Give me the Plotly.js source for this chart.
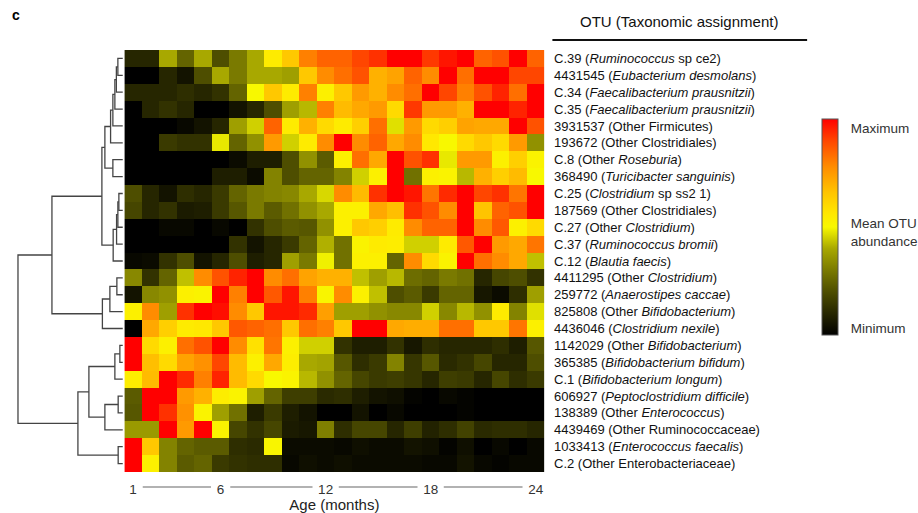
<!DOCTYPE html>
<html>
<head>
<meta charset="utf-8">
<script src="https://cdn.plot.ly/plotly-3.0.1.min.js"></script>
<style>html,body{margin:0;padding:0;background:#fff;}#chart{width:918px;height:513px;}</style>
</head>
<body>
<div id="chart"></div>
<script>
// ---------------- data ----------------
const months = [1,2,3,4,5,6,7,8,9,10,11,12,13,14,15,16,17,18,19,20,21,22,23,24];
const monthTickVals = [1,6,12,18,24];
const monthTickText = ['1','6','12','18','24'];

const otuIds = ['C.39','4431545','C.34','C.35','3931537','193672','C.8','368490','C.25','187569','C.27','C.37','C.12',
  '4411295','259772','825808','4436046','1142029','365385','C.1','606927','138389','4439469','1033413','C.2'];
const taxa = [
  '<i>Ruminococcus</i> sp ce2',
  '<i>Eubacterium desmolans</i>',
  '<i>Faecalibacterium prausnitzii</i>',
  '<i>Faecalibacterium prausnitzii</i>',
  'Other Firmicutes',
  'Other Clostridiales',
  'Other <i>Roseburia</i>',
  '<i>Turicibacter sanguinis</i>',
  '<i>Clostridium</i> sp ss2 1',
  'Other Clostridiales',
  'Other <i>Clostridium</i>',
  '<i>Ruminococcus bromii</i>',
  '<i>Blautia faecis</i>',
  'Other <i>Clostridium</i>',
  '<i>Anaerostipes caccae</i>',
  'Other <i>Bifidobacterium</i>',
  '<i>Clostridium nexile</i>',
  'Other <i>Bifidobacterium</i>',
  '<i>Bifidobacterium bifidum</i>',
  '<i>Bifidobacterium longum</i>',
  '<i>Peptoclostridium difficile</i>',
  'Other <i>Enterococcus</i>',
  'Other Ruminococcaceae',
  '<i>Enterococcus faecalis</i>',
  'Other Enterobacteriaceae'
];

// relative abundance scaled 0 (minimum) .. 5 (mean) .. 10 (maximum)
const abundance = [
  [1,1,4,2.5,4,2,3,4,5.5,6.5,8,8.5, 8.5,9,9.3,10,10,9.2,9.7,10,8.5,8.8,10,8.5],
  [0,0,1,0.5,2,4,3,4,4,3.8,6.5,7.8, 8.3,8.8,7,7.3,8.5,7.8,10,8.3,10,10,9,9],
  [1,1,1,1.2,1,1.3,2.5,5,6.5,5.5,8,5.3, 6.5,7.5,7,7.8,8.3,10,9,8,8.8,9.5,8.3,10],
  [0,1,1.3,1,0,0,0.5,1,2,3.8,4.2,8, 6.8,7.2,7.5,6,9.2,7.5,7.5,7,10,10,9.5,10],
  [0,0,0,0.2,0.5,1,3.8,4.5,8.5,5.5,7,6, 5.5,6.3,8.3,4.7,7.5,6,6.3,7.3,7.2,7.2,10,8.8],
  [0,0,1.5,1.3,1.3,4.8,2.5,3.5,7.5,4.5,5.5,7.8, 10,7.8,8.5,7.2,7.8,5.6,5,6,6.5,6,7.5,3.5],
  [0,0,0,0,0,0,0.3,0.8,0.8,2,3.5,2.3, 5.3,8.3,7.2,10,8.8,9.3,4.8,7.5,7.5,5.3,6.3,5.2],
  [0,0,0,0,0,0.8,0.8,0.3,3.2,2,2.5,2.5, 3.2,4.5,5.3,10,2.8,5.3,5.2,4.2,7,6.3,6.8,5],
  [2,1,0.5,1.2,1,1.5,2.5,3,3.2,3.3,4,4.6, 7.8,6.8,9.3,10,9.7,8.2,9.4,10,9,9.3,8.2,10],
  [1.8,1,1.3,0.7,0.8,1.5,2.2,3,2.3,2.8,3.5,4, 5.3,5.3,7.2,6.7,9.3,8.8,7.8,10,6.6,8.5,8.8,10],
  [0,0,0.2,0.2,0,0.2,0,1.3,2,2.3,2.2,3.5, 5.3,6.5,6.3,5.5,7.8,8.5,8.5,10,7.8,8.7,5.3,6],
  [0,0,0,0,0,0,1.3,0.5,1,1.5,2.5,4.1, 2.8,5.2,5.5,5.4,4.5,4.5,5.5,8.7,10,7.5,7.2,8.2],
  [0.2,0.3,1.3,2,0.5,1,2,0.8,1,3.8,3,4.9, 2.8,5.3,5.3,2.5,7.8,6,5.2,10,8.3,7.8,7.2,4.3],
  [3.3,1.3,2.5,4.3,7.8,8.8,9.5,10,7.8,8.3,7.3,7, 7,4.3,3.8,4.2,2.7,2.5,3,2.8,1,1.8,2,1.3],
  [0.5,3.3,3.5,5.3,5.2,10,8,10,8.7,9.7,8,5.1, 7.8,5.3,4.3,2,2.3,1.5,2.5,2.5,0.6,0.3,1.2,3.8],
  [5.3,7.8,3.8,9.3,10,9.8,7.8,6.5,9.7,9.7,9.4,7.4, 3.8,3.8,3.5,3.3,3.3,4.5,3.3,4.2,3.5,5.5,3.2,4.7],
  [0,7.2,6.3,5.5,5.6,6.5,8.7,8.5,8.3,6.5,8.3,8, 6.5,10,10,7.2,7.1,7.1,8.3,8.3,6.5,6.5,8.2,5.3],
  [10,6,5.3,8.3,8.8,10,7.8,5.8,8.2,5.3,4.5,4.5, 1.3,0.8,0.8,1.3,0.6,1.2,1,1,1,1.2,0.8,2.2],
  [10,6.7,6,7.3,7.7,9,6.8,5.3,7.2,5.4,4,3.9, 2.2,1.2,1.5,3.2,1.4,2.2,1.1,1.3,1.8,1,1,2],
  [5.4,6.8,10,9.4,8,9.5,6.8,6,5,5.2,4.2,3.5, 2.5,1.8,1.5,1.6,1.4,1,1.6,1.5,1,1.8,1.2,1.5],
  [2.3,10,10,7.5,7,5.4,5.2,3.8,2.5,1.6,1.6,1.1, 1.2,0.8,0.5,0.4,0.1,0,0.2,0.1,0,0,0,0],
  [2.2,10,9.3,7.7,5.2,3.8,2.8,0.8,1.5,0.8,0.5,0, 0,0.5,0,0.2,0,0,0,0.1,0,0,0,0],
  [3.7,3.7,10,7.5,10,5.2,1.8,1.3,1.8,0.7,0.6,3.1, 1.2,1.8,1.8,1,1.6,0.9,1.2,1.7,1.1,1.2,1.2,1],
  [10,6.5,3.2,2.5,2.3,2.3,1.2,1.1,5.1,0.3,0.3,0.3, 0.2,0.4,0.3,0.3,0.5,0.4,0.1,0.4,0,0.2,0,0.2],
  [10,5.3,3.2,2.3,2.5,1.5,1.3,1.2,1.2,0.2,0.4,0.3, 0.4,0.3,0.3,0.3,0.3,0.2,0.2,0.5,0.2,0.1,0.2,0.2]
];

// hierarchical clustering of rows: [childA, childB, height]; ids >= 25 refer to earlier merges
const linkage = [
  [0,1,5],[25,2,6.5],[26,3,8],[27,4,10],[28,5,12.3],[6,7,10],[29,30,18],
  [8,9,4],[32,10,5],[33,11,6.3],[34,12,9.7],[31,35,21],
  [13,14,6],[37,15,13],[38,16,20.5],[36,39,71],
  [17,18,3],[41,19,8],[20,21,4.7],[43,22,18],[42,44,34],[23,24,4.7],[45,46,45],
  [40,47,105]
];

const colorbarTickVals = [0.3, 4.75, 9.55];
const colorbarTickText = ['Minimum', 'Mean OTU<br>abundance', 'Maximum'];

// ---------------- build ----------------
const rowIdx = otuIds.map((_, i) => i);
const rowLabels = otuIds.map((id, i) => id + ' (' + taxa[i] + ')');

const nLeaf = otuIds.length;
const nodeY = rowIdx.slice(), nodeH = rowIdx.map(() => 0);
const dx = [], dy = [];
linkage.forEach(([a, b, h], k) => {
  dx.push(nodeH[a], h, h, nodeH[b], null);
  dy.push(nodeY[a], nodeY[a], nodeY[b], nodeY[b], null);
  nodeY[nLeaf + k] = (nodeY[a] + nodeY[b]) / 2;
  nodeH[nLeaf + k] = h;
});

const W = 918, H = 513;
const FONT = 'Liberation Sans, Arial, sans-serif';

const heat = {
  type: 'heatmap',
  x: months, y: rowIdx, z: abundance,
  zmin: 0, zmax: 10,
  colorscale: [
    [0, 'rgb(0,0,0)'], [0.1, 'rgb(38,38,0)'], [0.2, 'rgb(78,78,0)'], [0.3, 'rgb(122,122,0)'],
    [0.4, 'rgb(168,168,0)'], [0.5, 'rgb(248,248,0)'], [0.56, 'rgb(255,232,0)'],
    [0.66, 'rgb(255,196,0)'], [0.78, 'rgb(255,140,0)'], [0.9, 'rgb(255,70,0)'], [1, 'rgb(255,0,0)']
  ],
  xgap: 0, ygap: 0,
  hoverinfo: 'skip',
  colorbar: {
    x: 822/W, xanchor: 'left', xpad: 0,
    y: 1 - 227/H, yanchor: 'middle', ypad: 0,
    len: 216, lenmode: 'pixels',
    thickness: 16, thicknessmode: 'pixels',
    outlinewidth: 1, outlinecolor: '#555',
    tickvals: colorbarTickVals, ticktext: colorbarTickText,
    ticks: 'outside', ticklen: 10, tickcolor: 'rgba(0,0,0,0)',
    tickfont: {family: FONT, size: 13.5, color: '#333'}
  }
};

const dendro = {
  type: 'scatter', mode: 'lines',
  x: dx, y: dy, xaxis: 'x2', yaxis: 'y',
  line: {color: '#444', width: 1.3},
  hoverinfo: 'skip', showlegend: false
};

// connector lines between month tick labels
const shapes = [];
for (let i = 0; i < monthTickVals.length - 1; i++) {
  const g0 = 0.35 + 0.2 * monthTickText[i].length;
  const g1 = 0.35 + 0.2 * monthTickText[i+1].length;
  shapes.push({type: 'line', xref: 'x', yref: 'paper',
    x0: monthTickVals[i] + g0, x1: monthTickVals[i+1] - g1,
    y0: 1 - 487/H, y1: 1 - 487/H, line: {color: '#666', width: 1.2}});
}
shapes.push({type: 'line', xref: 'paper', yref: 'paper', x0: 553/W, x1: 808/W,
  y0: 1 - 40/H, y1: 1 - 40/H, line: {color: '#111', width: 2}});

const layout = {
  width: W, height: H,
  margin: {l: 0, r: 0, t: 0, b: 0},
  paper_bgcolor: '#fff', plot_bgcolor: '#fff',
  showlegend: false,
  font: {family: FONT, color: '#222'},
  xaxis: {
    domain: [124.5/W, 545/W], range: [0.5, 24.5],
    tickvals: monthTickVals, ticktext: monthTickText,
    ticks: 'outside', ticklen: 5, tickcolor: 'rgba(0,0,0,0)',
    tickfont: {family: FONT, size: 13.5, color: '#333'},
    showgrid: false, zeroline: false, showline: false,
    title: {text: 'Age (months)', font: {family: FONT, size: 15, color: '#222'}, standoff: 3}
  },
  yaxis: {
    domain: [1 - 472/H, 1 - 50/H], range: [24.5, -0.5],
    tickvals: rowIdx, ticktext: rowLabels, side: 'right',
    ticks: 'outside', ticklen: 6, tickcolor: 'rgba(0,0,0,0)',
    tickfont: {family: FONT, size: 13, color: '#111'},
    showgrid: false, zeroline: false, showline: false
  },
  xaxis2: {
    domain: [(123 - 107)/W, 123/W], range: [107, 0], anchor: 'y',
    visible: false, showgrid: false, zeroline: false
  },
  shapes: shapes,
  annotations: [
    {text: 'OTU (Taxonomic assignment)', xref: 'paper', yref: 'paper', x: 680/W, y: 1 - 21/H,
     xanchor: 'center', yanchor: 'middle', showarrow: false, font: {family: FONT, size: 15, color: '#111'}},
    {text: '<b>c</b>', xref: 'paper', yref: 'paper', x: 10/W, y: 1 - 15/H,
     xanchor: 'left', yanchor: 'middle', showarrow: false, font: {family: FONT, size: 14, color: '#000'}}
  ]
};

Plotly.newPlot('chart', [heat, dendro], layout, {displayModeBar: false, staticPlot: true});
</script>
</body>
</html>
